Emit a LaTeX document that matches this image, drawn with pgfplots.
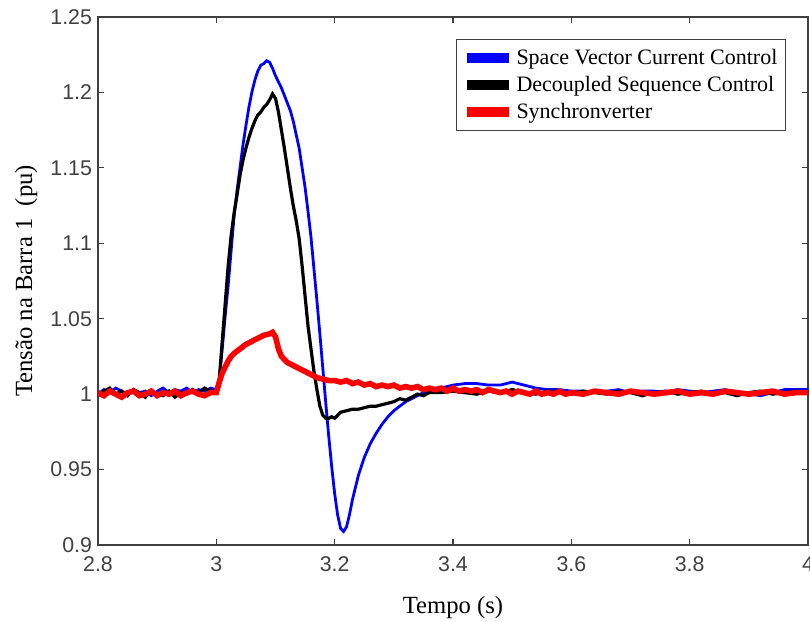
\documentclass[border=0pt]{standalone}
\usepackage{pgfplots}
\pgfplotsset{compat=1.18}
\usepackage{fontspec}
\setmainfont{Liberation Serif}
\newfontfamily\ticksans{Liberation Sans}
\definecolor{axgray}{RGB}{64,64,64}
\begin{document}
\begin{tikzpicture}
\useasboundingbox (-73.5pt,-57pt) rectangle (534pt,408.75pt);
\begin{axis}[
  scale only axis,
  width=532.5pt, height=396pt,
  xmin=2.8, xmax=4, ymin=0.9, ymax=1.25,
  xtick={2.8,3,3.2,3.4,3.6,3.8,4},
  ytick={0.9,0.95,1,1.05,1.1,1.15,1.2,1.25},
  yticklabels={0.9,0.95,1,1.05,1.1,1.15,1.2,1.25},
  xticklabels={2.8,3,3.2,3.4,3.6,3.8,4},
  tick align=inside,
  major tick length=4.5pt,
  axis line style={axgray, line width=0.9pt},
  tick style={axgray, line width=0.8pt},
  tick label style={font=\ticksans\fontsize{16}{17}\selectfont, text=axgray},
  xticklabel style={yshift=-5pt},
  yticklabel style={xshift=-1pt},
  xlabel={Tempo (s)},
  ylabel={Tensão na Barra 1\ \ (pu)},
  label style={font=\fontsize{18.5}{19}\selectfont},
  xlabel style={yshift=-12pt},
  ylabel style={yshift=3pt},
  legend style={at={(0.969,0.958)}, anchor=north east, draw=axgray, line width=0.9pt,
    font=\fontsize{16.5}{17}\selectfont, row sep=3.5pt, inner xsep=4pt, inner ysep=5pt},
  legend cell align=left,
  legend image code/.code={\draw[line width=7.5pt] (-4pt,0pt) -- (27.5pt,0pt);},
]
\addplot[blue, line width=2.1pt] coordinates {
(2.80,1.000)(2.81,1.003)(2.82,1.001)(2.83,1.004)(2.84,1.002)(2.85,1.000)(2.86,1.003)(2.87,1.001)(2.88,1.002)(2.89,0.999)
(2.90,1.002)(2.91,1.004)(2.92,1.001)(2.93,1.003)(2.94,1.002)(2.95,1.004)(2.96,1.001)(2.97,1.003)(2.98,1.002)(2.99,1.004)
(3.000,1.003)(3.005,1.010)(3.010,1.030)(3.015,1.052)(3.020,1.072)(3.025,1.095)(3.030,1.118)(3.035,1.135)(3.040,1.150)
(3.045,1.165)(3.050,1.178)(3.055,1.190)(3.060,1.200)(3.065,1.208)(3.070,1.214)(3.075,1.218)(3.080,1.219)(3.085,1.221)
(3.090,1.220)(3.095,1.216)(3.100,1.211)(3.105,1.207)(3.110,1.203)(3.115,1.198)(3.120,1.193)(3.125,1.188)(3.130,1.181)
(3.135,1.172)(3.140,1.163)(3.145,1.150)(3.150,1.137)(3.155,1.121)(3.160,1.104)(3.165,1.083)(3.170,1.062)(3.175,1.040)
(3.180,1.017)(3.185,0.994)(3.190,0.972)(3.195,0.952)(3.200,0.934)(3.205,0.920)(3.210,0.911)(3.215,0.909)(3.220,0.912)
(3.225,0.920)(3.230,0.930)(3.240,0.946)(3.250,0.958)(3.260,0.967)(3.270,0.974)(3.280,0.980)(3.290,0.985)(3.300,0.989)
(3.310,0.992)(3.320,0.995)(3.330,0.997)(3.340,0.999)(3.350,1.001)(3.360,1.002)(3.370,1.003)(3.380,1.004)(3.390,1.005)
(3.400,1.006)(3.420,1.007)(3.440,1.007)(3.460,1.006)(3.480,1.006)(3.500,1.008)(3.520,1.006)(3.540,1.004)(3.560,1.003)
(3.580,1.003)(3.600,1.002)(3.62,1.002)(3.64,1.001)(3.66,1.002)(3.68,1.003)(3.70,1.001)(3.72,1.002)(3.74,1.002)(3.76,1.001)
(3.78,1.003)(3.80,1.002)(3.82,1.001)(3.84,1.002)(3.86,1.003)(3.88,1.001)(3.90,1.000)(3.92,0.999)(3.94,1.001)(3.96,1.003)
(3.98,1.003)(4.00,1.003)
};
\addlegendentry{Space Vector Current Control}
\addplot[black, line width=2.4pt] coordinates {
(2.80,0.999)(2.81,1.002)(2.82,1.004)(2.83,1.000)(2.84,1.002)(2.85,0.999)(2.86,1.003)(2.87,1.001)(2.88,0.998)(2.89,1.002)
(2.90,1.000)(2.91,0.999)(2.92,1.002)(2.93,0.998)(2.94,1.001)(2.95,1.000)(2.96,1.003)(2.97,1.001)(2.98,1.004)(2.99,1.002)
(3.000,1.002)(3.005,1.010)(3.010,1.035)(3.015,1.060)(3.020,1.085)(3.025,1.105)(3.030,1.120)(3.035,1.132)(3.040,1.145)
(3.045,1.155)(3.050,1.163)(3.055,1.170)(3.060,1.176)(3.065,1.181)(3.070,1.185)(3.075,1.187)(3.080,1.190)(3.085,1.192)
(3.090,1.195)(3.095,1.199)(3.100,1.196)(3.105,1.187)(3.110,1.175)(3.115,1.163)(3.120,1.150)(3.125,1.137)(3.130,1.125)
(3.135,1.115)(3.140,1.103)(3.145,1.085)(3.150,1.065)(3.155,1.045)(3.160,1.030)(3.165,1.015)(3.170,1.003)(3.175,0.992)
(3.180,0.986)(3.185,0.984)(3.190,0.984)(3.195,0.985)(3.200,0.984)(3.205,0.986)(3.210,0.988)(3.220,0.989)(3.230,0.990)
(3.240,0.990)(3.250,0.991)(3.260,0.992)(3.270,0.992)(3.280,0.993)(3.290,0.994)(3.300,0.995)(3.310,0.997)(3.320,0.996)
(3.330,0.998)(3.340,1.000)(3.350,0.999)(3.360,1.001)(3.38,1.001)(3.40,1.002)(3.42,1.001)(3.44,1.000)(3.46,1.002)(3.48,1.001)
(3.50,1.003)(3.52,1.001)(3.54,1.000)(3.56,1.002)(3.58,1.001)(3.60,1.000)(3.62,1.002)(3.64,1.001)(3.66,1.000)(3.68,1.002)
(3.70,1.001)(3.72,0.999)(3.74,1.001)(3.76,1.002)(3.78,1.000)(3.80,1.001)(3.82,1.002)(3.84,1.000)(3.86,1.001)(3.88,0.999)
(3.90,1.001)(3.92,1.002)(3.94,1.000)(3.96,1.001)(3.98,1.002)(4.00,1.001)
};
\addlegendentry{Decoupled Sequence Control}
\addplot[red, line width=4.2pt] coordinates {
(2.80,1.001)(2.81,0.999)(2.82,1.002)(2.83,1.000)(2.84,0.998)(2.85,1.001)(2.86,1.002)(2.87,0.999)(2.88,1.000)(2.89,1.002)
(2.90,0.999)(2.91,1.001)(2.92,1.000)(2.93,1.002)(2.94,0.999)(2.95,1.001)(2.96,1.002)(2.97,1.000)(2.98,0.999)(2.99,1.001)
(3.000,1.001)(3.005,1.008)(3.010,1.014)(3.015,1.018)(3.020,1.022)(3.025,1.025)(3.030,1.027)(3.040,1.030)(3.050,1.033)
(3.060,1.035)(3.070,1.037)(3.080,1.039)(3.090,1.040)(3.095,1.041)(3.100,1.038)(3.105,1.030)(3.110,1.025)(3.115,1.023)
(3.120,1.021)(3.130,1.019)(3.140,1.017)(3.150,1.015)(3.160,1.013)(3.170,1.011)(3.180,1.010)(3.190,1.009)(3.200,1.009)
(3.210,1.008)(3.220,1.009)(3.230,1.007)(3.240,1.008)(3.250,1.006)(3.260,1.007)(3.270,1.005)(3.280,1.006)(3.290,1.005)
(3.300,1.006)(3.310,1.004)(3.320,1.005)(3.330,1.004)(3.340,1.005)(3.350,1.003)(3.360,1.004)(3.370,1.003)(3.380,1.004)
(3.390,1.002)(3.400,1.004)(3.410,1.002)(3.420,1.003)(3.430,1.002)(3.440,1.003)(3.450,1.001)(3.460,1.003)(3.470,1.002)
(3.480,1.001)(3.490,1.002)(3.500,1.000)(3.510,1.002)(3.520,1.001)(3.530,1.000)(3.540,1.002)(3.550,1.000)(3.560,1.001)
(3.570,1.000)(3.580,1.002)(3.590,1.000)(3.600,1.001)(3.62,1.000)(3.64,1.002)(3.66,1.001)(3.68,1.000)(3.70,1.002)(3.72,1.001)
(3.74,1.000)(3.76,1.001)(3.78,1.002)(3.80,1.000)(3.82,1.001)(3.84,1.000)(3.86,1.002)(3.88,1.001)(3.90,1.000)(3.92,1.001)
(3.94,1.002)(3.96,1.000)(3.98,1.001)(4.00,1.001)
};
\addlegendentry{Synchronverter}
\end{axis}
\end{tikzpicture}
\end{document}
